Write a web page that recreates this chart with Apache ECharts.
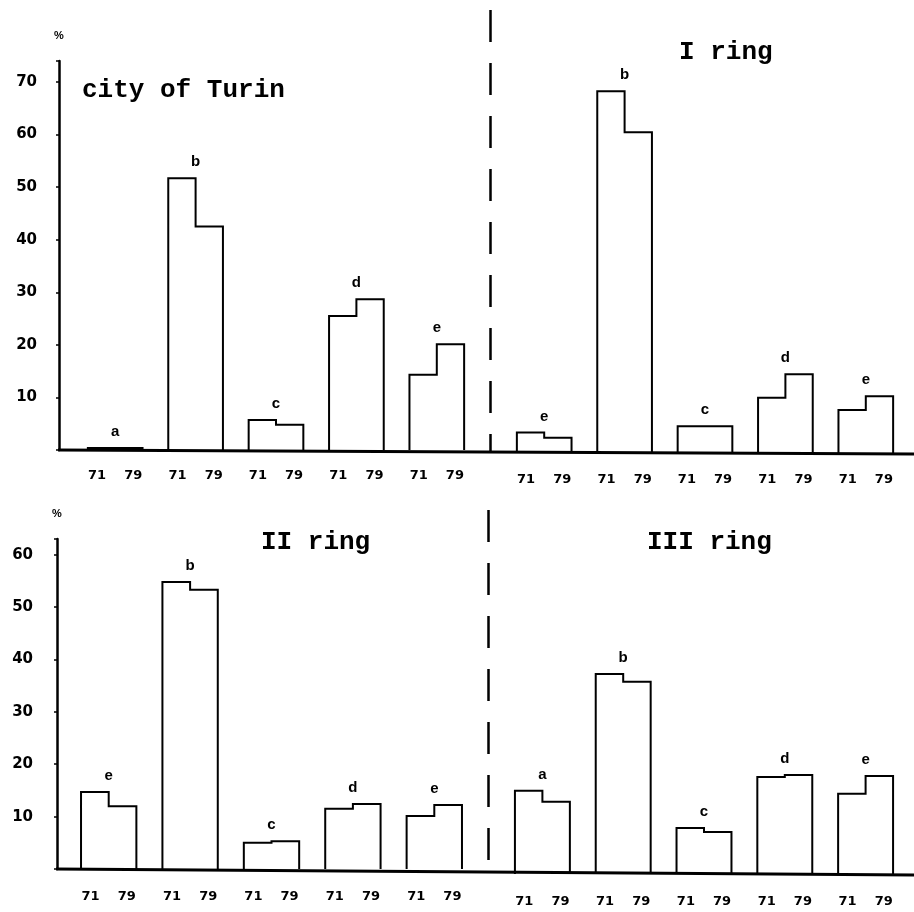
<!DOCTYPE html>
<html><head><meta charset="utf-8">
<script src="https://cdn.jsdelivr.net/npm/echarts@6/dist/echarts.min.js"></script>
<style>html,body{margin:0;padding:0;background:#fff}#c{width:914px;height:912px}</style>
</head><body><div id="c"></div>
<script>
// ---- data ----
const yearLabels = ['71', '79'];
const panelTitles = ['city of Turin', 'I ring', 'II ring', 'III ring'];

const cityLetters = ['a', 'b', 'c', 'd', 'e'];
const city71 = [0.4, 51.7, 5.7, 25.5, 14.3];
const city79 = [0.4, 42.5, 4.8, 28.7, 20.1];

const ring1Letters = ['e', 'b', 'c', 'd', 'e'];
const ring1_71 = [3.9, 68.8, 5.1, 10.5, 8.2];
const ring1_79 = [2.9, 61.0, 5.1, 15.0, 10.8];

const ring2Letters = ['e', 'b', 'c', 'd', 'e'];
const ring2_71 = [14.7, 54.8, 5.0, 11.5, 10.1];
const ring2_79 = [12.0, 53.3, 5.3, 12.4, 12.2];

const ring3Letters = ['a', 'b', 'c', 'd', 'e'];
const ring3_71 = [15.9, 38.2, 8.8, 18.5, 15.3];
const ring3_79 = [13.8, 36.7, 8.0, 18.9, 18.7];

const yTopMax = 74, yBottomMax = 63, yInterval = 10;

// ---- layout ----
const G = [
  {left: 75, top: 61, width: 402, height: 389},
  {left: 504, top: 64, width: 402, height: 389},
  {left: 68, top: 539, width: 407, height: 330},
  {left: 502, top: 544, width: 404, height: 330}
];
const axisOffsets = [16, 0, 11, 0];

const panels = [
  {letters: cityLetters, v71: city71, v79: city79, max: yTopMax, axis: true},
  {letters: ring1Letters, v71: ring1_71, v79: ring1_79, max: yTopMax, axis: false},
  {letters: ring2Letters, v71: ring2_71, v79: ring2_79, max: yBottomMax, axis: true},
  {letters: ring3Letters, v71: ring3_71, v79: ring3_79, max: yBottomMax, axis: false}
];
const labelMargins = [19, 20, 21, 21];

const chart = echarts.init(document.getElementById('c'), null, {renderer: 'canvas'});

function makeRender(letters) {
  return function (params, api) {
    const i = api.value(0);
    const base = api.coord([i, 0]);
    const w = api.size([1, 0])[0] * 0.68;
    const t1 = api.coord([i, api.value(1)])[1];
    const t2 = api.coord([i, api.value(2)])[1];
    const cx = base[0], by = base[1];
    const x0 = cx - w / 2, x1 = cx + w / 2;
    return {
      type: 'group',
      children: [
        {type: 'polyline', shape: {points: [[x0, by], [x0, t1], [cx, t1], [cx, t2], [x1, t2], [x1, by]]},
         style: {stroke: '#000', lineWidth: 2, fill: null}},
        {type: 'text', style: {text: letters[params.dataIndex], x: cx, y: Math.min(t1, t2) - 16,
          align: 'center', verticalAlign: 'middle', fill: '#000',
          font: 'bold 15px "Liberation Sans", Arial, sans-serif'}}
      ]
    };
  };
}

const option = {
  backgroundColor: '#fff',
  animation: false,
  grid: G.map(g => Object.assign({containLabel: false}, g)),
  xAxis: panels.map((p, k) => ({
    type: 'category', gridIndex: k, data: p.letters,
    axisLine: {show: false}, axisTick: {show: false},
    axisLabel: {interval: 0, margin: labelMargins[k], color: '#000',
      fontFamily: '"DejaVu Sans", sans-serif', fontWeight: 'bold', fontSize: 13,
      formatter: () => yearLabels.join('    ')}
  })),
  yAxis: panels.map((p, k) => ({
    type: 'value', gridIndex: k, min: 0, max: p.max, interval: yInterval,
    show: p.axis, offset: axisOffsets[k],
    name: '%', nameLocation: 'end', nameGap: 20,
    nameTextStyle: {color: '#000', fontSize: 11, fontWeight: 'bold', align: 'center'},
    splitLine: {show: false},
    axisLine: {show: true, onZero: false, lineStyle: {color: '#000', width: 2.5}},
    axisTick: {show: true, length: 3, lineStyle: {color: '#000', width: 1.5}},
    axisLabel: {color: '#000', margin: k === 0 ? 22 : 24, fontSize: 15, fontWeight: 'bold',
      fontFamily: '"DejaVu Sans", sans-serif',
      formatter: v => (v > 0 && v % 10 === 0) ? String(v) : ''}
  })),
  series: panels.map((p, k) => ({
    type: 'custom', xAxisIndex: k, yAxisIndex: k,
    renderItem: makeRender(p.letters),
    data: p.v71.map((v, i) => [i, v, p.v79[i]]),
    clip: false
  }))
};
chart.setOption(option);

// decorations: baselines, dashed dividers and panel titles
const px = (k, pt) => chart.convertToPixel({xAxisIndex: k, yAxisIndex: k}, pt);
const b0 = px(0, [0, 0])[1], b1 = px(1, [0, 0])[1], b2 = px(2, [0, 0])[1], b3 = px(3, [0, 0])[1];
const axX0 = G[0].left - axisOffsets[0], axX2 = G[2].left - axisOffsets[2];
const divTop = (G[0].left + G[0].width + G[1].left) / 2;
const divBot = (G[2].left + G[2].width + G[3].left) / 2;
const titleFont = 'bold 26px "Liberation Mono", "Courier New", monospace';
chart.setOption({
  graphic: [
    {type: 'polyline', shape: {points: [[axX0 - 1, b0], [914, b1 + 1]]}, style: {stroke: '#000', lineWidth: 3}},
    {type: 'polyline', shape: {points: [[axX2 - 1, b2], [914, b3 + 1]]}, style: {stroke: '#000', lineWidth: 3}},
    {type: 'line', shape: {x1: divTop, y1: 10, x2: divTop, y2: (b0 + b1) / 2}, style: {stroke: '#000', lineWidth: 2.5, lineDash: [32, 21]}},
    {type: 'line', shape: {x1: divBot, y1: 510, x2: divBot, y2: (b2 + b3) / 2}, style: {stroke: '#000', lineWidth: 2.5, lineDash: [32, 21]}},
    {type: 'text', style: {text: panelTitles[0], x: 82, y: 90, verticalAlign: 'middle', font: titleFont, fill: '#000'}},
    {type: 'text', style: {text: panelTitles[1], x: 679, y: 52, verticalAlign: 'middle', font: titleFont, fill: '#000'}},
    {type: 'text', style: {text: panelTitles[2], x: 261, y: 542, verticalAlign: 'middle', font: titleFont, fill: '#000'}},
    {type: 'text', style: {text: panelTitles[3], x: 647, y: 542, verticalAlign: 'middle', font: titleFont, fill: '#000'}}
  ]
});
</script>
</body></html>
